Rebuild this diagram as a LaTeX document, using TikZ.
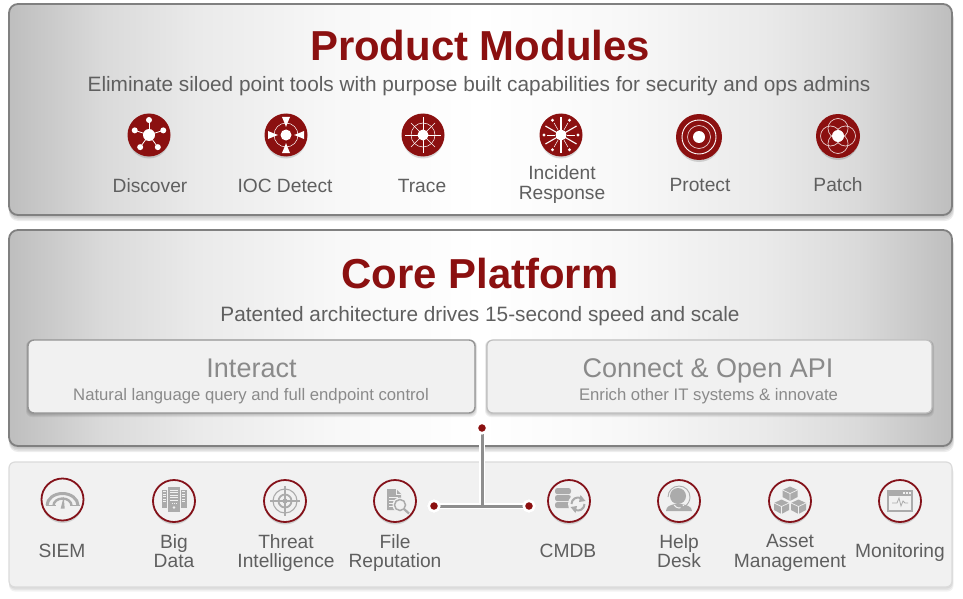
\documentclass[tikz,border=0pt]{standalone}
\usepackage{fontspec}
\setmainfont{Liberation Sans}
\usetikzlibrary{shapes.geometric}
\definecolor{brick}{HTML}{8B1010}
\definecolor{ring}{HTML}{84121A}
\definecolor{txt}{HTML}{5F5F5F}
\definecolor{soft}{HTML}{8A8A8A}
\definecolor{edgeg}{HTML}{808080}
\definecolor{conng}{HTML}{8E8E8E}
\definecolor{ico}{HTML}{ABABAB}
\definecolor{pale}{HTML}{F1F1F1}
\definecolor{sA}{HTML}{BEBEBE}
\definecolor{sB}{HTML}{DADADA}
\definecolor{sC}{HTML}{EAEAEA}
\definecolor{sD}{HTML}{F8F8F8}
\pgfdeclarehorizontalshading{panelshade}{100bp}{color(0bp)=(sA);color(25bp)=(sA);color(30bp)=(sB);color(35bp)=(sC);color(42.5bp)=(sD);color(50bp)=(white);color(57.5bp)=(sD);color(65bp)=(sC);color(70bp)=(sB);color(75bp)=(sA);color(100bp)=(sA)}
\tikzset{
 x=1pt,y=-1pt,
 panel/.style={rounded corners=9pt,draw=edgeg,line width=1.8pt,shading=panelshade},
 lab/.style={text=txt,font=\fontsize{19.2}{19.3}\selectfont,align=center,inner sep=0pt},
 sublab/.style={text=soft,font=\fontsize{16.7}{18}\selectfont,align=center,inner sep=0pt,anchor=base},
 bigsub/.style={text=soft,font=\fontsize{27}{28}\selectfont,inner sep=0pt,anchor=base},
 ttl/.style={text=brick,font=\bfseries\fontsize{41.9}{44}\selectfont,inner sep=0pt},
 subttl/.style={text=txt,font=\fontsize{20.8}{22}\selectfont,inner sep=0pt},
 modicon/.style={circle,fill=brick,minimum size=43pt,inner sep=0pt,draw=none},
 inticon/.style={circle,fill=pale,draw=ring,line width=1.8pt,minimum size=42pt,inner sep=0pt},
 sdw/.style={circle,fill=black,opacity=.14,minimum size=41pt,inner sep=0pt,draw=none},
 dot/.style={circle,fill=brick,draw=white,line width=2.5pt,minimum size=10.5pt,inner sep=0pt},
 wl/.style={draw=white,line width=.5pt},
 wt/.style={draw=white,line width=.9pt},
 gl/.style={draw=ico,line width=1.1pt},
 softshadow/.style={fill=black,opacity=.07},
}
\begin{document}
\begin{tikzpicture}
\useasboundingbox[fill=white] (0,0) rectangle (963,599);
% panel shadows
\foreach \d in {1.5,3,4.5,6}{
\fill[softshadow,rounded corners=9pt] (9,4+\d) rectangle (952+\d/3,215+\d);
\fill[softshadow,rounded corners=9pt] (9,230+\d) rectangle (952+\d/3,446+\d);
}
\foreach \d in {1.5,3,4.5}{
\fill[softshadow,opacity=.05,rounded corners=6pt] (9,462+\d) rectangle (952+\d/3,587+\d);
}
% Panels
\path[panel] (9,4) rectangle (952,215);
\path[panel] (9,230) rectangle (952,446);
\path[rounded corners=6pt,fill=pale,draw=black!14,line width=1.2pt] (9,462) rectangle (952,587);
% Titles
\node[ttl] (t1) at (480,46) {Product Modules};
\node[subttl] (s1) at (479,86.5) {Eliminate siloed point tools with purpose built capabilities for security and ops admins};
\node[ttl] (t2) at (480,273.5) {Core Platform};
\node[subttl] (s2) at (480,316) {Patented architecture drives 15-second speed and scale};
% Inner boxes
\foreach \d in {1,2,3,4}{
\fill[softshadow,opacity=.06,rounded corners=6pt] (28-\d/2,340) rectangle (475+\d/2,413+\d);
\fill[softshadow,opacity=.06,rounded corners=6pt] (487-\d/2,340) rectangle (932+\d/2,413+\d);
}
\path[rounded corners=6pt,fill=pale,draw=black!42,line width=1.4pt] (28,340) rectangle (475,413);
\path[rounded corners=6pt,fill=pale,draw=black!25,line width=1.2pt] (487,340) rectangle (932,413);
\node[bigsub] (i1) at (251.5,377.5) {Interact};
\node[sublab] (i2) at (251,400.5) {Natural language query and full endpoint control};
\node[bigsub] (c1) at (708,377.5) {Connect \& Open API};
\node[sublab] (c2) at (708.5,400.5) {Enrich other IT systems \& innovate};
% Module icons
\foreach \n/\x/\y/\s in {m1/149/135/43,m2/286/135/43,m3/423/135/43,m4/561/135/43,m5/699/137/46,m6/838/136/44}{
  \node[sdw,minimum size=\s pt-2pt] at (\x,\y+3) {};
  \node[modicon,minimum size=\s pt] (\n) at (\x,\y) {};
}
% Discover
\fill[white] (m1) circle (6pt);
\foreach \a in {18,90,162,234,306}{
  \draw[wl,line width=.8pt] (m1.center) -- ++(\a:15pt);
  \fill[white] (m1.center) ++(\a:15pt) circle (3pt);
}
% IOC Detect
\draw[wl] (m2) circle (12pt);
\fill[white] (m2) circle (5.5pt);
\foreach \a in {0,90,180,270}{
  \begin{scope}[shift={(m2.center)},rotate=\a]
  \fill[white] (8,0) -- (12,-1.5) -- (18,-4) -- (18,4) -- (12,1.5) -- cycle;
  \end{scope}
}
% Trace
\draw[wl] (m3) circle (12pt);
\fill[white] (m3) circle (5.5pt);
\foreach \a in {0,90,180,270} \draw[wt] (m3.center) -- ++(\a:18pt);
\foreach \a in {45,135,225,315} \draw[wl] (m3.center) -- ++(\a:17pt);
% Incident
\fill[white] (m4) circle (5.5pt);
\foreach \a in {30,90,150,210,270,330} \draw[wt,line width=1.1pt] (m4.center) -- ++(\a:18pt);
\foreach \a in {60,120,240,300,0,180} \draw[wl] (m4.center) ++(\a:6pt) -- ++(\a:8pt);
\foreach \a in {0,60,120,180,240,300} \fill[white] (m4.center) ++(\a:17pt) circle (1.7pt);
% Protect
\fill[white] (m5) circle (6pt);
\draw[wl,line width=.7pt,draw=white!80!brick] (m5) circle (11.5pt);
\draw[wl,line width=.9pt] (m5) circle (17pt);
% Patch
\foreach \a in {0,90,180,270} \draw[wl,line width=.7pt,draw=white!80!brick] (m6.center) ++(\a:7.5pt) circle (10pt);
\fill[white] (m6) circle (6pt);
% module labels
\node[lab] (l1) at (150,186) {Discover};
\node[lab] (l2) at (285,186) {IOC Detect};
\node[lab] (l3) at (422,186) {Trace};
\node[lab] (l4) at (562,184.5) {Incident\\Response};
\node[lab] (l5) at (700,184.5) {Protect};
\node[lab] (l6) at (838,184.5) {Patch};
% Integration icons
\foreach \n/\x/\y in {a1/62.5/499.5,a2/174/501,a3/285/501,a4/395/501,a5/569/501,a6/679/501,a7/790/501,a8/900/501}{
  \node[sdw] at (\x,\y+3) {};
  \node[inticon] (\n) at (\x,\y) {};
}
% SIEM gauge
\begin{scope}[shift={(a1.center)}]
\draw[ico,line width=3pt] (-15.5pt,-6pt) arc[start angle=180,end angle=0,x radius=15.5pt,y radius=12pt];
\draw[ico,line width=2.4pt] (-9pt,-6pt) arc[start angle=180,end angle=0,x radius=9pt,y radius=7pt];
\fill[ico] (-17,5) rectangle (-7,6.8);\fill[ico] (7,5) rectangle (17,6.8);
\fill[ico] (-1.8,9) -- (1.2,-3) -- (2.2,9) -- cycle;
\end{scope}
% Big data servers
\begin{scope}[shift={(a2.center)}]
\fill[ico] (-12.5,-11) rectangle (-6.5,7);
\fill[ico] (6.5,-11) rectangle (12.5,7);
\fill[pale] (-6.8,-14) rectangle (6.8,12);
\fill[ico] (-6,-14) rectangle (6,11);
\foreach \yy in {-11.5,-9,-6.5,-4,-1.5}{\fill[pale] (-4,\yy) rectangle (4,\yy+1);
 \fill[pale] (-11,\yy+1.5) rectangle (-8,\yy+2); \fill[pale] (8,\yy+1.5) rectangle (11,\yy+2);}
\foreach \xx in {-2,0,2}{\fill[pale] (\xx-.5,2) rectangle (\xx+.5,3);}
\fill[pale] (0,6.5) circle (1.3pt);
\end{scope}
% Threat target
\begin{scope}[shift={(a3.center)}]
\draw[gl] (0,0) circle (12pt);
\draw[gl,line width=1.8pt] (0,0) circle (6.5pt);
\fill[ico] (0,0) circle (2.5pt);
\draw[gl] (-15,0) -- (15,0) (0,-15) -- (0,15);
\end{scope}
% File reputation
\begin{scope}[shift={(a4.center)}]
\fill[ico] (-8,-12) -- (1,-12) -- (6,-7) -- (6,9) -- (-8,9) -- cycle;
\draw[pale,line width=.8pt] (1,-12) -- (1,-7) -- (6,-7);
\draw[pale,line width=.9pt] (-6,-4) -- (3,-4) (-6,-1) -- (0,-1) (-6,2) -- (-2,2) (-6,5) -- (-2,5);
\fill[pale] (5,4) circle (7.5pt);
\draw[ico,line width=1.5pt] (5,4) circle (5.5pt);
\draw[ico,line width=2.2pt] (9,8) -- (14,12.5);
\end{scope}
% CMDB
\begin{scope}[shift={(a5.center)}]
\foreach \yy in {-13,-6,1}{
 \fill[ico,rounded corners=2.5pt] (-14,\yy) rectangle (2,\yy+6.2);
}
\fill[pale] (9,3) circle (10pt);
\draw[ico,line width=2pt] (2.5pt,-3pt) arc (180:70:6.5pt);
\draw[ico,line width=2pt] (15.5pt,-3pt) arc (0:-110:6.5pt);
\fill[ico] (11.5,-6) -- (16.5,0) -- (10,1) -- cycle;
\fill[ico] (6.5,12) -- (1.5,6) -- (8,5) -- cycle;
\end{scope}
% Help desk
\begin{scope}[shift={(a6.center)}]
\fill[ico] (-1,-5) circle (8pt);
\fill[ico] (-13,10) .. controls (-13,5) and (-8,4) .. (-4,3) -- (2,3) .. controls (7,4) and (13,5) .. (13,10) -- cycle;
\draw[pale,line width=1pt] (-5,4) .. controls (-2,8) and (2,8) .. (5,4);
\draw[ico,line width=.9pt] (-11pt,4pt) arc (180:0:11pt);
\draw[ico,line width=.9pt] (11pt,4pt) arc (0:-60:11pt) -- (3pt,-6pt);
\fill[ico] (3,6) circle (1.8pt);
\end{scope}
% Asset cubes
\begin{scope}[shift={(a7.center)}]
\foreach \cx/\cy in {0/-8,-8.5/5,8.5/5}{
 \fill[ico] (\cx,\cy-6.5) -- (\cx+7.5,\cy-3) -- (\cx+7.5,\cy+4) -- (\cx,\cy+8) -- (\cx-7.5,\cy+4) -- (\cx-7.5,\cy-3) -- cycle;
 \draw[pale,line width=.7pt] (\cx-7.5,\cy-3) -- (\cx,\cy+.5) -- (\cx+7.5,\cy-3) (\cx,\cy+.5) -- (\cx,\cy+8);
}
\end{scope}
% Monitoring
\begin{scope}[shift={(a8.center)}]
\fill[ico] (-13,-11) rectangle (13,11);
\fill[pale] (-11,-5) rectangle (11,9);
\foreach \xx in {4,7,10}{\fill[pale] (\xx-1,-9) rectangle +(1.6,1.6);}
\draw[ico,line width=.8pt] (-8,2) -- (-3,2) -- (-1,-3) -- (1,5) -- (3,0) -- (5,2) -- (8,2);
\end{scope}
% integration labels
\node[lab] (b1) at (62,551) {SIEM};
\node[lab] (b2) at (174,551) {Big\\Data};
\node[lab] (b3) at (286,553) {Threat\\Intelligence};
\node[lab] (b4) at (395,553) {File\\Reputation};
\node[lab] (b5) at (568,550.5) {CMDB};
\node[lab] (b6) at (679,551) {Help\\Desk};
\node[lab] (b7) at (790,553) {Asset\\Management};
\node[lab] (b8) at (900,552.5) {Monitoring};
% connector
\node[dot] (d1) at (482,428) {};
\node[dot] (d2) at (434,506) {};
\node[dot] (d3) at (529,506) {};
\coordinate (jt) at (d1 |- d2);
\path[draw=white,line width=6pt] (d2.center) -- (d3.center) (d1.center) -- (jt);
\draw[conng,line width=3pt] (d2.center) -- (d3.center) (d1.center) -- (jt);
\node[dot] at (d1) {};
\node[dot] at (d2) {};
\node[dot] at (d3) {};
\end{tikzpicture}
\end{document}
